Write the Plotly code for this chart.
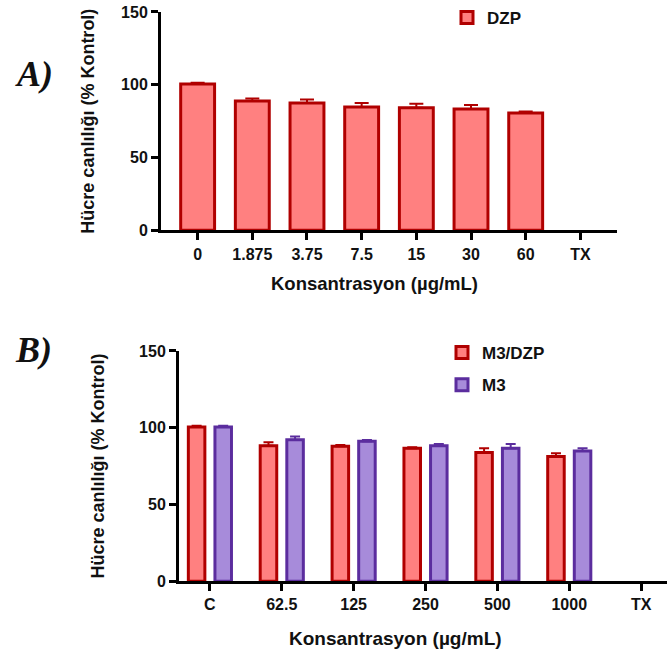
import plotly.graph_objects as go

# Panel A data
cats_a = ["0", "1.875", "3.75", "7.5", "15", "30", "60", "TX"]
dzp_vals = [100.5, 88.8, 87.5, 84.7, 84.2, 83.3, 80.6, None]
dzp_err = [0.8, 1.8, 2.4, 2.8, 2.8, 2.8, 1.1, None]

# Panel B data
cats_b = ["C", "62.5", "125", "250", "500", "1000", "TX"]
m3dzp_vals = [100.5, 88.3, 87.9, 86.6, 83.8, 81.2, None]
m3dzp_err = [0.8, 2.2, 0.8, 0.7, 2.8, 2.1, None]
m3_vals = [100.5, 92.2, 91.1, 88.3, 86.6, 84.8, None]
m3_err = [0.8, 2.0, 0.9, 1.1, 2.8, 1.8, None]

x_title = "Konsantrasyon (µg/mL)"
y_title = "Hücre canlılığı (% Kontrol)"

RED_FILL = "#FF8080"
RED_LINE = "#B00000"
PUR_FILL = "#A78BDA"
PUR_LINE = "#5B2D9E"
FONT = "Arial, Liberation Sans, sans-serif"
TXT = "#111111"

fig = go.Figure()

fig.add_trace(go.Bar(
    x=list(range(len(cats_a))), y=dzp_vals, name="DZP", width=0.62,
    marker=dict(color=RED_FILL, line=dict(color=RED_LINE, width=3)),
    error_y=dict(type="data", array=dzp_err, arrayminus=[0]*len(dzp_err), symmetric=False,
                 color=RED_LINE, thickness=2, width=7),
    xaxis="x", yaxis="y", legend="legend",
))

fig.add_trace(go.Bar(
    x=list(range(len(cats_b))), y=m3dzp_vals, name="M3/DZP", width=0.23, offset=-0.30,
    marker=dict(color=RED_FILL, line=dict(color=RED_LINE, width=3)),
    error_y=dict(type="data", array=m3dzp_err, arrayminus=[0]*len(m3dzp_err), symmetric=False,
                 color=RED_LINE, thickness=2, width=5),
    xaxis="x2", yaxis="y2", legend="legend2", legendgroup="g1",
))
fig.add_trace(go.Bar(
    x=list(range(len(cats_b))), y=m3_vals, name="M3", width=0.23, offset=0.07,
    marker=dict(color=PUR_FILL, line=dict(color=PUR_LINE, width=3)),
    error_y=dict(type="data", array=m3_err, arrayminus=[0]*len(m3_err), symmetric=False,
                 color=PUR_LINE, thickness=2, width=5),
    xaxis="x2", yaxis="y2", legend="legend2", legendgroup="g2",
))

axis_common = dict(
    showline=True, linewidth=3, linecolor="black", ticks="outside", ticklen=7,
    tickwidth=3, tickcolor="black", showgrid=False, zeroline=False, automargin=False,
    tickfont=dict(family=FONT, size=16, color=TXT, weight="bold"),
)
title_font = dict(family=FONT, size=18, color=TXT)

fig.update_layout(
    width=667, height=657, margin=dict(l=0, r=0, t=0, b=0),
    paper_bgcolor="white", plot_bgcolor="white",
    barmode="overlay",
    xaxis=dict(domain=[161/667, 617/667], range=[-0.67, 7.67], anchor="y",
               tickmode="array", tickvals=list(range(len(cats_a))), ticktext=cats_a,
               **axis_common),
    yaxis=dict(domain=[1-229/657, 1-10/657], range=[0, 150], anchor="x",
               tickvals=[0, 50, 100, 150],
               title=dict(text="<b>" + y_title + "</b>", standoff=22, font=title_font),
               **axis_common),
    xaxis2=dict(domain=[179/667, 1.0], range=[-0.43, 6.36], anchor="y2",
                tickmode="array", tickvals=list(range(len(cats_b))), ticktext=cats_b,
                **axis_common),
    yaxis2=dict(domain=[1-581/657, 1-350/657], range=[0, 150], anchor="x2",
                tickvals=[0, 50, 100, 150],
                title=dict(text="<b>" + y_title + "</b>", standoff=30, font=title_font),
                **axis_common),
    legend=dict(x=447/667, y=1+2/657, xanchor="left", yanchor="top",
                bgcolor="rgba(0,0,0,0)",
                font=dict(family=FONT, size=17, color=TXT, weight="bold")),
    legend2=dict(x=442/667, y=1-334/657, xanchor="left", yanchor="top",
                 bgcolor="rgba(0,0,0,0)", tracegroupgap=7,
                 font=dict(family=FONT, size=17, color=TXT, weight="bold")),
    showlegend=True,
)

# x-axis titles (offset left of axis centre, as in the original)
fig.add_annotation(text="<b>" + x_title + "</b>", x=374/667, y=1-282/657, xref="paper", yref="paper",
                   xanchor="center", yanchor="middle", showarrow=False,
                   font=dict(family=FONT, size=18.5, color=TXT))
fig.add_annotation(text="<b>" + x_title + "</b>", x=395/667, y=1-638/657, xref="paper", yref="paper",
                   xanchor="center", yanchor="middle", showarrow=False,
                   font=dict(family=FONT, size=19, color=TXT))

fig.add_annotation(text="<b><i>A)</i></b>", x=13/667, y=1-72/657, xref="paper", yref="paper",
                   xanchor="left", yanchor="middle", showarrow=False,
                   font=dict(family="Liberation Serif, Times New Roman, serif", size=36, color=TXT))
fig.add_annotation(text="<b><i>B)</i></b>", x=13/667, y=1-349/657, xref="paper", yref="paper",
                   xanchor="left", yanchor="middle", showarrow=False,
                   font=dict(family="Liberation Serif, Times New Roman, serif", size=36, color=TXT))

fig.write_html("out.html")
